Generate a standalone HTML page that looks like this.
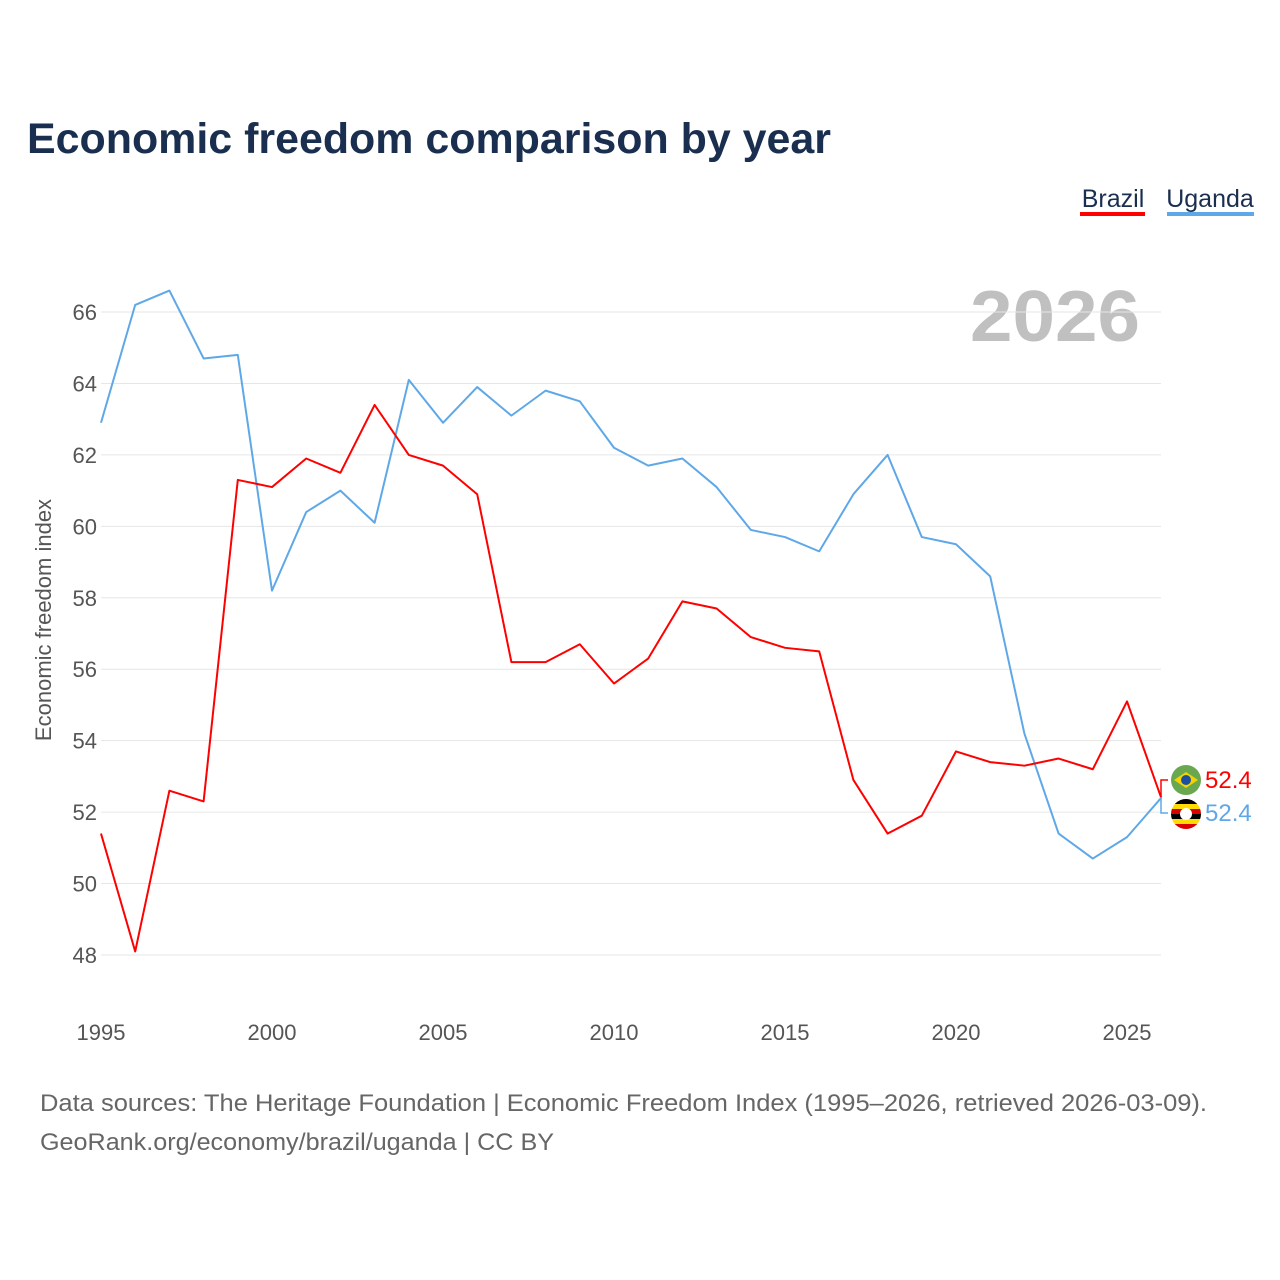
<!DOCTYPE html>
<html><head><meta charset="utf-8">
<style>
body{margin:0;background:#fff;font-family:"Liberation Sans",sans-serif;}
#wrap{position:relative;width:1280px;height:1280px;overflow:hidden;}
</style></head>
<body>
<div id="wrap">
<svg id="chart" width="1280" height="1280" xmlns="http://www.w3.org/2000/svg">
<text x="27" y="153" font-size="43" font-weight="bold" fill="#1a2e4f" textLength="804" lengthAdjust="spacingAndGlyphs">Economic freedom comparison by year</text>
<g>
<text x="1113" y="207" font-size="25" fill="#1a2e4f" text-anchor="middle">Brazil</text>
<rect x="1080" y="212" width="65" height="4" fill="#ff0000"/>
</g>
<g>
<text x="1210" y="207" font-size="25" fill="#1a2e4f" text-anchor="middle">Uganda</text>
<rect x="1167" y="212" width="87" height="4" fill="#5fa8e8"/>
</g>
<text x="970" y="341" font-size="72" font-weight="bold" fill="#c0c0c0" textLength="170" lengthAdjust="spacingAndGlyphs">2026</text>
<text transform="translate(51,620) rotate(-90)" font-size="22" fill="#555" text-anchor="middle">Economic freedom index</text>
<g id="grid"></g><g id="yticks"></g><g id="xticks"></g><g id="lines"></g>
<g>
<path d="M1161 797 V780 H1168" stroke="#ff0000" fill="none" stroke-width="1.5"/>
<circle cx="1186" cy="780" r="15" fill="#6aa84f"/>
<polygon points="1174,780 1186,772 1198,780 1186,788" fill="#f5d300"/>
<circle cx="1186" cy="780" r="5" fill="#1c4fa0"/>
<text x="1205" y="788" font-size="24" fill="#ff0000">52.4</text>
</g>
<g>
<path d="M1161 797 V813 H1168" stroke="#5fa8e8" fill="none" stroke-width="1.5"/>
<clipPath id="ug"><circle cx="1186" cy="814" r="15"/></clipPath>
<g clip-path="url(#ug)">
<rect x="1171" y="799" width="30" height="5" fill="#000"/><rect x="1171" y="804" width="30" height="5" fill="#fcdc04"/>
<rect x="1171" y="809" width="30" height="5" fill="#d90000"/><rect x="1171" y="814" width="30" height="5" fill="#000"/>
<rect x="1171" y="819" width="30" height="5" fill="#fcdc04"/><rect x="1171" y="824" width="30" height="5" fill="#d90000"/>
</g>
<circle cx="1186" cy="814" r="6" fill="#fff"/>
<text x="1205" y="821" font-size="24" fill="#5fa8e8">52.4</text>
</g>
<text x="40" y="1111" font-size="24" fill="#666" textLength="1167" lengthAdjust="spacingAndGlyphs">Data sources: The Heritage Foundation | Economic Freedom Index (1995–2026, retrieved 2026-03-09).</text>
<text x="40" y="1150" font-size="24" fill="#666" textLength="514" lengthAdjust="spacingAndGlyphs">GeoRank.org/economy/brazil/uganda | CC BY</text>
</svg>
</div>
<script>
const years=[1995,1996,1997,1998,1999,2000,2001,2002,2003,2004,2005,2006,2007,2008,2009,2010,2011,2012,2013,2014,2015,2016,2017,2018,2019,2020,2021,2022,2023,2024,2025,2026];
const brazil=[51.4,48.1,52.6,52.3,61.3,61.1,61.9,61.5,63.4,62.0,61.7,60.9,56.2,56.2,56.7,55.6,56.3,57.9,57.7,56.9,56.6,56.5,52.9,51.4,51.9,53.7,53.4,53.3,53.5,53.2,55.1,52.4];
const uganda=[62.9,66.2,66.6,64.7,64.8,58.2,60.4,61.0,60.1,64.1,62.9,63.9,63.1,63.8,63.5,62.2,61.7,61.9,61.1,59.9,59.7,59.3,60.9,62.0,59.7,59.5,58.6,54.2,51.4,50.7,51.3,52.4];
const yTicks=[48,50,52,54,56,58,60,62,64,66];
const xTicks=[1995,2000,2005,2010,2015,2020,2025];
const NS="http://www.w3.org/2000/svg";
const x=v=>101+(v-1995)*34.2;
const y=v=>955-(v-48)*35.72;
function mk(t,a,p){const e=document.createElementNS(NS,t);for(const k in a)e.setAttribute(k,a[k]);p.appendChild(e);return e;}
const grid=document.getElementById('grid'),yt=document.getElementById('yticks'),xt=document.getElementById('xticks'),ln=document.getElementById('lines');
yTicks.forEach(v=>{
 const l=mk('line',{x1:101,x2:1161,y1:y(v),y2:y(v),stroke:'#e6e6e6','stroke-width':1},grid);
 
 
 const t=mk('text',{x:97,y:y(v)+8,'font-size':22,fill:'#555','text-anchor':'end'},yt);
 t.textContent=v;
 
 
});
xTicks.forEach(v=>{
 const t=mk('text',{x:x(v),y:1040,'font-size':22,fill:'#555','text-anchor':'middle'},xt);
 t.textContent=v;
 
 
});
function line(d,c,n){
 const p=mk('polyline',{points:d.map((v,i)=>x(years[i])+','+y(v)).join(' '),fill:'none',stroke:c,'stroke-width':2,'stroke-linejoin':'round'},ln);
 
 
}
line(uganda,'#5fa8e8','line-uganda');
line(brazil,'#ff0000','line-brazil');
</script>
</body></html>
